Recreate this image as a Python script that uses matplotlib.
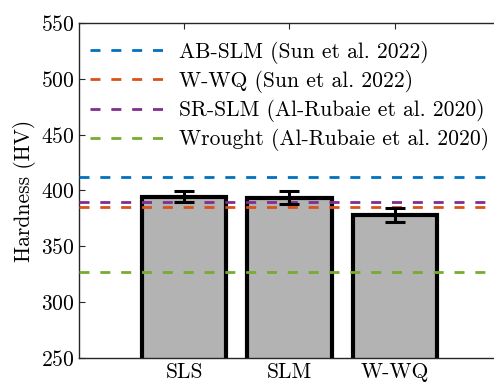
import numpy as np
import matplotlib
matplotlib.use('Agg')
import matplotlib.pyplot as plt

# dati
categorie = ['SLS', 'SLM', 'W-WQ']
durezza = [394.5, 393.5, 378.0]
errore = [5.0, 6.0, 6.0]

riferimenti = ['AB-SLM (Sun et al. 2022)', 'W-WQ (Sun et al. 2022)',
               'SR-SLM (Al-Rubaie et al. 2020)', 'Wrought (Al-Rubaie et al. 2020)']
valori_rif = [412, 385, 390, 327]
colori_rif = [(0, 0.447, 0.741), (0.85, 0.325, 0.098),
              (0.494, 0.184, 0.556), (0.466, 0.674, 0.188)]

plt.rcParams['font.family'] = 'serif'
plt.rcParams['font.serif'] = ['cmr10']
plt.rcParams['mathtext.fontset'] = 'cm'
plt.rcParams['axes.formatter.use_mathtext'] = True

fs = 15.5

fig = plt.figure(figsize=(4.94, 3.83), dpi=100)
ax = fig.add_axes([0.16, 0.0653, 0.852, 0.875])

x = np.arange(1, len(categorie) + 1)
ax.bar(x, durezza, width=0.8, color=(0.702, 0.702, 0.702), edgecolor='black',
       linewidth=3, zorder=2)

for val, lab, col in zip(valori_rif, riferimenti, colori_rif):
    ax.axhline(val, color=col, linewidth=2, dashes=(3.6, 3.9), label=lab, zorder=3)

ax.errorbar(x, durezza, yerr=errore, fmt='none', ecolor='black', elinewidth=2.2,
            capsize=7.5, capthick=2.2, zorder=4)

ax.set_xlim(0, 4)
ax.set_ylim(250, 550)
ax.set_xticks(x)
ax.set_xticklabels(categorie)
ax.set_yticks(np.arange(250, 551, 50))
ax.tick_params(direction='in', labelsize=fs, top=True, right=True, length=4,
               color=(0.15, 0.15, 0.15))
ax.tick_params(axis='x', pad=3)
for s in ax.spines.values():
    s.set_color((0.15, 0.15, 0.15))
    s.set_linewidth(1)
ax.set_ylabel('Hardness (HV)', fontsize=fs, labelpad=3)

ax.legend(loc='upper left', frameon=False, fontsize=fs, handlelength=3.6,
          handletextpad=0.55, labelspacing=0.28, borderaxespad=0.1,
          bbox_to_anchor=(0.0, 0.978))

plt.savefig('out.png', dpi=100)
